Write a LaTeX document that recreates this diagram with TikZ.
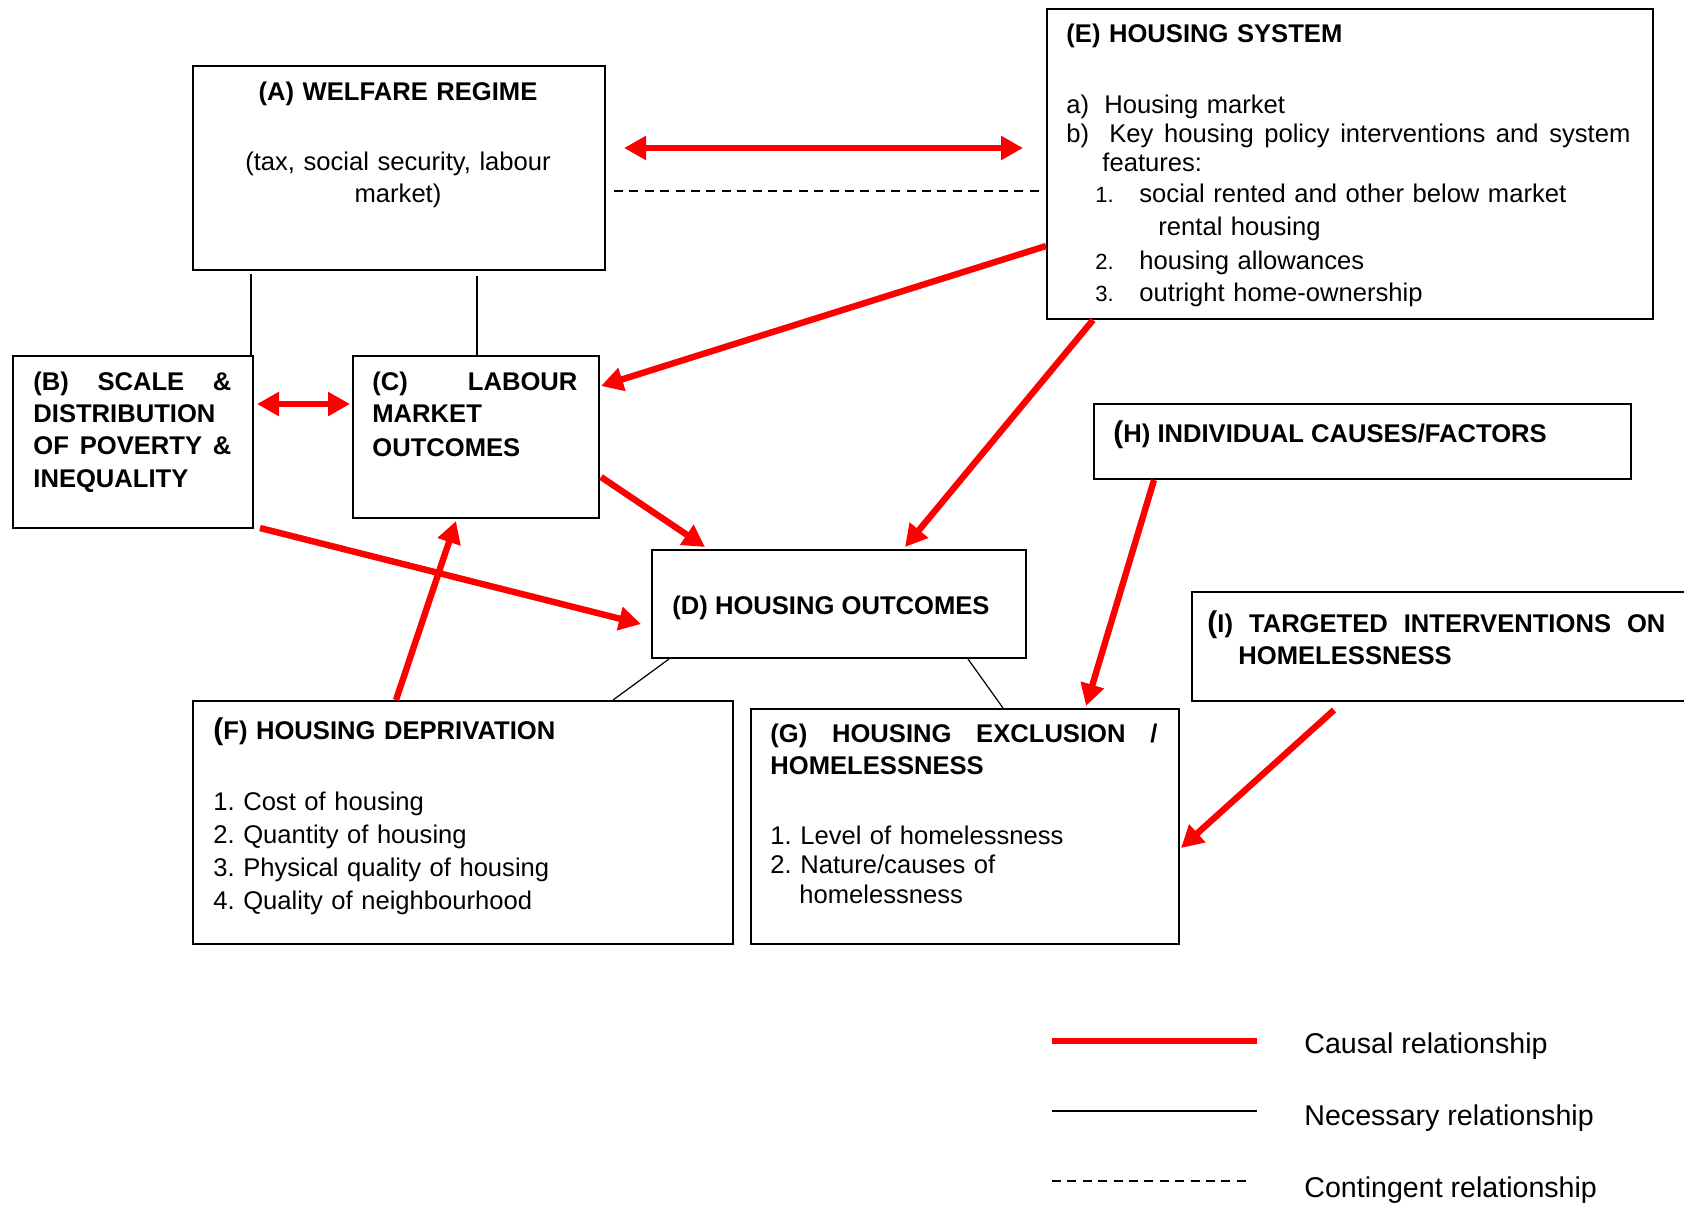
\documentclass[tikz,border=0pt]{standalone}
\usepackage{fontspec}
\setmainfont{Liberation Sans}
\usetikzlibrary{arrows.meta}
\frenchspacing
\newcommand{\listnum}{\fontsize{11}{11}\selectfont}
\newcommand{\bigparen}{{\fontsize{15}{15}\selectfont(}}

\begin{document}
\begin{tikzpicture}[x=0.5pt, y=-0.5pt, >={Triangle[length=11pt,width=11.5pt]},
    box/.style={draw=black, line width=1pt, anchor=north west, inner sep=0pt}]
	\tikzstyle{annot}=[anchor=base west, inner sep=0pt, align=left, font=\fontsize{12.8}{16}\selectfont]
	\tikzstyle{head}=[annot, font=\bfseries\fontsize{12.8}{16}\selectfont]
	\tikzstyle{causal}=[draw=red, line width=3.2pt]
	\tikzstyle{necessary}=[draw=black, line width=0.6pt]
	\tikzstyle{contingent}=[draw=black, line width=0.6pt, dash pattern=on 4.5pt off 3.2pt]
	\useasboundingbox (0,0) rectangle (1684,1205);

	% Draw boxes
	\node[box, minimum width=206pt, minimum height=102pt] (a) at (192,65) {};
	\node[box, minimum width=120pt, minimum height=86pt] (b) at (12,355) {};
	\node[box, minimum width=123pt, minimum height=81pt] (c) at (352,355) {};
	\node[box, minimum width=187pt, minimum height=54pt] (d) at (651,549) {};
	\node[box, minimum width=303pt, minimum height=155pt] (e) at (1046,8) {};
	\node[box, minimum width=270pt, minimum height=121.5pt] (f) at (192,700) {};
	\node[box, minimum width=214pt, minimum height=117.5pt] (g) at (750,708) {};
	\node[box, minimum width=268.5pt, minimum height=37.5pt] (h) at (1093,403) {};
	\node[box, minimum width=255pt, minimum height=54.5pt] (i) at (1191,591) {};

	% Box texts
	\node[annot, anchor=base, align=center, text width=200pt] (atext) at (398,100)
		{\textbf{(A) WELFARE REGIME}\\[19pt](tax, social security, labour\\market)};
	\node[head, text width=100pt, font=\bfseries\fontsize{12.8}{16.2}\selectfont] (btext) at (33,390)
		{\makebox[99pt][l]{(B)\hfill SCALE\hfill\&}\\DISTRIBUTION\\\makebox[99pt][l]{OF\hfill POVERTY\hfill\&}\\INEQUALITY};
	\node[head, text width=104pt] (ctext) at (372,390)
		{\makebox[102.5pt][l]{(C)\hfill LABOUR}\\MARKET\\[1pt]OUTCOMES};
	\node[head] (dtext) at (672,614) {(D) HOUSING OUTCOMES};
	\node[annot, text width=290pt, font=\fontsize{12.8}{14.5}\selectfont] (etext) at (1066,42)
		{\textbf{(E) HOUSING SYSTEM}\\[21pt]
		\makebox[19pt][l]{a)}Housing market\\
		\makebox[21.5pt][l]{b)}\makebox[260.5pt][l]{Key\hfill housing\hfill policy\hfill interventions\hfill and\hfill system}\\
		\hspace*{18pt}features:\\[1pt]
		\hspace*{14.5pt}\makebox[22pt][l]{\listnum 1.}social rented and other below market\\[2pt]
		\hspace*{46pt}rental housing\\[2.5pt]
		\hspace*{14.5pt}\makebox[22pt][l]{\listnum 2.}housing allowances\\[1.5pt]
		\hspace*{14.5pt}\makebox[22pt][l]{\listnum 3.}outright home-ownership};
	\node[annot, text width=260pt, font=\fontsize{12.8}{16.5}\selectfont] (ftext) at (213,739)
		{\textbf{\bigparen F) HOUSING DEPRIVATION}\\[19pt]
		1. Cost of housing\\2. Quantity of housing\\3. Physical quality of housing\\4. Quality of neighbourhood};
	\node[annot, text width=200pt, font=\fontsize{12.8}{14.75}\selectfont] (gtext) at (770,742)
		{\textbf{\makebox[193.5pt][l]{(G)\hfill HOUSING\hfill EXCLUSION\hfill /}}\\[1.25pt]\textbf{HOMELESSNESS}\\[20.25pt]
		1. Level of homelessness\\2. Nature/causes of\\\hspace*{14.5pt}homelessness};
	\node[head] (htext) at (1113,442) {\bigparen H) INDIVIDUAL CAUSES/FACTORS};
	\node[head, text width=240pt] (itext) at (1207,632)
		{\makebox[229pt][l]{\bigparen I)\hfill TARGETED\hfill INTERVENTIONS\hfill ON}\\\hspace*{15.5pt}HOMELESSNESS};

	% Draw arrows
	\draw[causal, <->] ([xshift=9pt,yshift=10pt]a.east) -- ([xshift=-11.5pt,yshift=8pt]e.west);
	\draw[contingent] ([xshift=4pt,yshift=-11.5pt]a.east) -- ([xshift=-2pt,yshift=-13.5pt]e.west);
	\draw[causal, <->] ([xshift=1.5pt,yshift=19pt]b.east) -- ([xshift=-1pt,yshift=16.5pt]c.west);
	\draw[causal, ->] ([yshift=-41pt]e.west) -- ([xshift=0.5pt,yshift=25.5pt]c.east);
	\draw[causal, ->] ([xshift=-128.5pt]e.south) -- ([xshift=33pt,yshift=1pt]d.north);
	\draw[causal, ->] ([xshift=0.5pt,yshift=-20pt]c.east) -- ([xshift=-67pt,yshift=1pt]d.north);
	\draw[causal, ->] ([xshift=3pt,yshift=0.5pt]b.south east) -- ([xshift=-5pt,yshift=-10pt]d.west);
	\draw[causal, ->] ([xshift=-33.5pt]f.north) -- ([xshift=-10pt,yshift=-1pt]c.south);
	\draw[causal, ->] ([xshift=-104.25pt]h.south) -- ([xshift=60.5pt,yshift=1pt]g.north);
	\draw[causal, ->] ([xshift=-56.5pt,yshift=-4pt]i.south) -- ([xshift=0.5pt,yshift=-10.75pt]g.east);

	% Draw necessary relationships
	\draw[necessary] ([xshift=-74pt,yshift=-1.5pt]a.south) -- ([xshift=59pt]b.north);
	\draw[necessary] ([xshift=39pt,yshift=-2.5pt]a.south) -- ([xshift=0.5pt]c.north);
	\draw[necessary] ([xshift=-85pt]d.south) -- ([xshift=75pt]f.north);
	\draw[necessary] ([xshift=64.5pt]d.south) -- ([xshift=19pt]g.north);

	% Legend
	\coordinate (causal1) at (1052,1041);
	\coordinate (causal2) at (1257,1041);
	\coordinate (necessary1) at (1052,1111);
	\coordinate (necessary2) at (1257,1111);
	\coordinate (contingent1) at (1052,1181);
	\coordinate (contingent2) at (1251,1181);
	\draw[causal, line width=3pt] (causal1) -- (causal2);
	\draw[necessary] (necessary1) -- (necessary2);
	\draw[contingent] (contingent1) -- (contingent2);
	\node[annot, font=\fontsize{14.3}{17}\selectfont] (lcausal) at (1304,1053) {Causal relationship};
	\node[annot, font=\fontsize{14.3}{17}\selectfont] (lnecessary) at (1304,1125) {Necessary relationship};
	\node[annot, font=\fontsize{14.3}{17}\selectfont] (lcontingent) at (1304,1197) {Contingent relationship};

\end{tikzpicture}
\end{document}
